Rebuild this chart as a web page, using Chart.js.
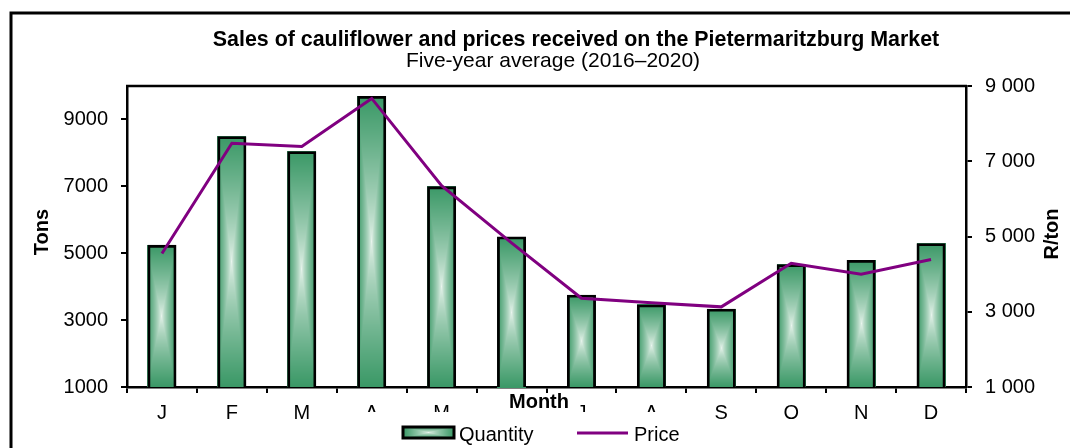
<!DOCTYPE html>
<html><head><meta charset="utf-8">
<script src="https://cdn.jsdelivr.net/npm/chart.js@4"></script>
<style>html,body{margin:0;padding:0;background:#fff}#wrap{width:1070px;height:448px;position:relative}</style>
</head><body><div id="wrap"><canvas id="c" width="1070" height="448"></canvas></div>
<script>
const months = ['J','F','M','A','M','J','J','A','S','O','N','D'];
const quantity = [5250, 8500, 8050, 9700, 7000, 5500, 3760, 3470, 3340, 4670, 4800, 5300];
const price = [4550, 7480, 7390, 8670, 6350, 4830, 3360, 3240, 3130, 4290, 4000, 4390];
const tonsTicks = [1000, 3000, 5000, 7000, 9000];
const priceTicks = [1000, 3000, 5000, 7000, 9000];
const titleText = 'Sales of cauliflower and prices received on the Pietermaritzburg Market';
const subtitleText = 'Five-year average (2016–2020)';
const xTitle = 'Month', yTitle = 'Tons', y2Title = 'R/ton';
const seriesNames = ['Quantity', 'Price'];

const FONT = '"Liberation Sans", Arial, sans-serif';
const DARK = [58, 152, 102], LIGHT = [234, 245, 238];
const PURPLE = '#800080';

function paintGradient(ctx, left, top, w, h) {
  w = Math.max(1, Math.round(w)); h = Math.max(1, Math.round(h));
  const off = document.createElement('canvas'); off.width = w; off.height = h;
  const oc = off.getContext('2d'); const img = oc.createImageData(w, h);
  const hw = w / 2, hh = h / 2;
  for (let j = 0; j < h; j++) for (let i = 0; i < w; i++) {
    let t = Math.min(1, Math.max(Math.abs(i + 0.5 - hw) / hw, Math.abs(j + 0.5 - hh) / hh));
    t = Math.pow(t, 0.75);
    const k = (j * w + i) * 4;
    for (let c = 0; c < 3; c++) img.data[k + c] = Math.round(LIGHT[c] + (DARK[c] - LIGHT[c]) * t);
    img.data[k + 3] = 255;
  }
  oc.putImageData(img, 0, 0);
  ctx.drawImage(off, Math.round(left), Math.round(top));
}

const decor = {
  id: 'decor',
  beforeDatasetsDraw(chart) {
    const ctx = chart.ctx, a = chart.chartArea;
    chart.getDatasetMeta(0).data.forEach(bar => {
      const p = bar.getProps(['x', 'y', 'base', 'width'], true);
      const top = Math.max(a.top, Math.min(p.y, p.base));
      const bottom = Math.min(a.bottom, Math.max(p.y, p.base));
      if (bottom > top) paintGradient(ctx, p.x - p.width / 2, top, p.width, bottom - top);
    });
  },
  afterDraw(chart) {
    const ctx = chart.ctx, a = chart.chartArea;
    ctx.save();
    ctx.strokeStyle = '#000';
    ctx.lineWidth = 2.5;
    ctx.beginPath(); ctx.moveTo(a.left - 1, a.top); ctx.lineTo(a.right + 1, a.top); ctx.stroke();
    ctx.lineWidth = 3;
    ctx.beginPath(); ctx.moveTo(11, 470); ctx.lineTo(11, 13); ctx.lineTo(1090, 13); ctx.stroke();

    ctx.fillStyle = '#000'; ctx.textAlign = 'center'; ctx.textBaseline = 'alphabetic';
    ctx.font = 'bold 21.4px ' + FONT; ctx.fillText(titleText, 576, 46);
    ctx.font = '21px ' + FONT; ctx.fillText(subtitleText, 553, 67);

    ctx.font = 'bold 20px ' + FONT; ctx.textBaseline = 'middle';
    ctx.save(); ctx.translate(42, 232); ctx.rotate(-Math.PI / 2); ctx.fillText(yTitle, 0, 0); ctx.restore();
    ctx.save(); ctx.translate(1052, 234); ctx.rotate(-Math.PI / 2); ctx.fillText(y2Title, 0, 0); ctx.restore();

    ctx.fillStyle = '#fff'; ctx.fillRect(505, 393, 70, 19);
    ctx.fillStyle = '#000'; ctx.textBaseline = 'alphabetic';
    ctx.font = 'bold 20px ' + FONT; ctx.fillText(xTitle, 539, 408);

    ctx.fillStyle = '#fff'; ctx.fillRect(360, 412, 340, 36);
    paintGradient(ctx, 403, 427, 51, 11);
    ctx.lineWidth = 3; ctx.strokeStyle = '#000'; ctx.strokeRect(403, 427, 51, 11);
    ctx.strokeStyle = PURPLE; ctx.lineWidth = 3;
    ctx.beginPath(); ctx.moveTo(577, 433); ctx.lineTo(628, 433); ctx.stroke();
    ctx.fillStyle = '#000'; ctx.textAlign = 'left'; ctx.font = '20px ' + FONT;
    ctx.fillText(seriesNames[0], 459, 441);
    ctx.fillText(seriesNames[1], 634, 441);
    ctx.restore();
  }
};

Chart.defaults.color = '#000';
Chart.defaults.font.family = FONT;
new Chart(document.getElementById('c'), {
  data: {
    labels: months,
    datasets: [
      { type: 'bar', label: seriesNames[0], data: quantity, yAxisID: 'y', order: 2,
        backgroundColor: 'rgba(0,0,0,0)', borderColor: '#000', borderWidth: 2.8, borderSkipped: false,
        categoryPercentage: 1, barPercentage: 0.415 },
      { type: 'line', label: seriesNames[1], data: price, yAxisID: 'y2', order: 1,
        borderColor: PURPLE, borderWidth: 3, pointRadius: 0, tension: 0, fill: false }
    ]
  },
  options: {
    responsive: false, animation: false, devicePixelRatio: 1,
    layout: { padding: { top: 86, left: 0, right: 0, bottom: 0 } },
    plugins: { legend: { display: false }, tooltip: { enabled: false }, title: { display: false } },
    scales: {
      x: {
        offset: true,
        grid: { offset: true, drawOnChartArea: false, drawTicks: true, tickLength: 6, color: '#000', lineWidth: 2 },
        border: { display: true, color: '#000', width: 2.5 },
        ticks: { font: { size: 20 }, padding: 8, maxRotation: 0, autoSkip: false },
        afterFit(s) { s.height = 61; }
      },
      y: {
        position: 'left', min: 1000, max: 10000,
        afterBuildTicks(s) { s.ticks = tonsTicks.map(v => ({ value: v })); },
        grid: { drawOnChartArea: false, drawTicks: true, tickLength: 6, color: '#000', lineWidth: 2 },
        border: { display: true, color: '#000', width: 2.5 },
        ticks: { font: { size: 20 }, padding: 13, callback: v => String(v) },
        afterFit(s) { s.width = 127; }
      },
      y2: {
        position: 'right', min: 1000, max: 9000,
        afterBuildTicks(s) { s.ticks = priceTicks.map(v => ({ value: v })); },
        grid: { drawOnChartArea: false, drawTicks: true, tickLength: 6, color: '#000', lineWidth: 2 },
        border: { display: true, color: '#000', width: 2.5 },
        ticks: { font: { size: 20 }, padding: 13, callback: v => String(v).replace(/\B(?=(\d{3})+(?!\d))/g, ' ') },
        afterFit(s) { s.width = 104; }
      }
    }
  },
  plugins: [decor]
});
</script></body></html>
